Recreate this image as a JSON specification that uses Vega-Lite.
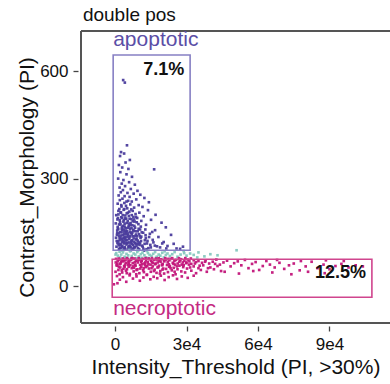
{
  "$schema": "https://vega.github.io/schema/vega-lite/v6.json",
  "width": 309,
  "height": 292,
  "autosize": {"type": "none"},
  "padding": {"left": 81, "top": 31, "right": 0, "bottom": 61},
  "config": {
    "view": {"stroke": null},
    "font": "Liberation Sans",
    "axis": {"domain": false, "grid": false, "tickColor": "#444", "tickSize": 5, "tickWidth": 1.3, "offset": 3, "labelFont": "Liberation Sans", "labelFontSize": 17, "labelColor": "#111", "labelPadding": 5, "titleFont": "Liberation Sans", "titleFontSize": 21, "titleFontWeight": "normal", "titleColor": "#111"}
  },
  "encoding": {
    "x": {"field": "x", "type": "quantitative", "scale": {"domain": [-14.3, 115.4], "nice": false, "zero": false}, "axis": {"title": "Intensity_Threshold (PI, >30%)", "values": [0, 30, 60, 90], "labelExpr": "datum.value == 0 ? '0' : (datum.value / 10) + 'e4'", "titlePadding": 4}},
    "y": {"field": "y", "type": "quantitative", "scale": {"domain": [-103, 712], "nice": false, "zero": false}, "axis": {"title": "Contrast_Morphology (PI)", "values": [0, 300, 600], "titlePadding": 2}}
  },
  "layer": [
    {
      "data": {"values": [
        {"x": -14.3, "y": -103, "x2": 115.4, "y2": -103},
        {"x": -14.3, "y": 712, "x2": 115.4, "y2": 712},
        {"x": -14.3, "y": -103, "x2": -14.3, "y2": 712}
      ]},
      "mark": {"type": "rule", "color": "#555", "strokeWidth": 2},
      "encoding": {"x2": {"field": "x2"}, "y2": {"field": "y2"}}
    },
    {
      "data": {"values": [
        {"x":3.4,"y":575,"g":"a"},{"x":4.1,"y":568,"g":"a"},
        {"x":5.0,"y":393,"g":"a"},{"x":2.5,"y":374,"g":"a"},{"x":3.8,"y":370,"g":"a"},{"x":2.1,"y":363,"g":"a"},{"x":6.2,"y":352,"g":"a"},{"x":4.4,"y":345,"g":"a"},{"x":1.6,"y":338,"g":"a"},{"x":3.0,"y":331,"g":"a"},{"x":5.6,"y":327,"g":"a"},{"x":16.4,"y":326,"g":"a"},{"x":2.2,"y":318,"g":"a"},{"x":4.8,"y":312,"g":"a"},{"x":7.1,"y":305,"g":"a"},{"x":1.3,"y":300,"g":"a"},{"x":3.5,"y":296,"g":"a"},{"x":5.9,"y":290,"g":"a"},{"x":2.8,"y":286,"g":"a"},{"x":8.3,"y":283,"g":"a"},{"x":4.2,"y":279,"g":"a"},{"x":1.9,"y":275,"g":"a"},{"x":6.6,"y":271,"g":"a"},{"x":3.3,"y":268,"g":"a"},{"x":9.4,"y":266,"g":"a"},{"x":2.4,"y":262,"g":"a"},{"x":5.2,"y":260,"g":"a"},{"x":7.8,"y":258,"g":"a"},{"x":10.6,"y":255,"g":"a"},{"x":1.5,"y":253,"g":"a"},{"x":4.0,"y":251,"g":"a"},{"x":6.1,"y":249,"g":"a"},{"x":12.3,"y":246,"g":"a"},{"x":3.1,"y":244,"g":"a"},{"x":8.9,"y":242,"g":"a"},{"x":2.0,"y":240,"g":"a"},{"x":5.5,"y":238,"g":"a"},{"x":7.0,"y":236,"g":"a"},{"x":14.2,"y":234,"g":"a"},{"x":3.9,"y":232,"g":"a"},{"x":1.1,"y":230,"g":"a"},{"x":6.4,"y":228,"g":"a"},{"x":9.9,"y":226,"g":"a"},{"x":4.6,"y":224,"g":"a"},{"x":2.7,"y":222,"g":"a"},{"x":11.5,"y":221,"g":"a"},{"x":8.0,"y":219,"g":"a"},{"x":5.1,"y":217,"g":"a"},{"x":1.8,"y":215,"g":"a"},{"x":3.6,"y":213,"g":"a"},{"x":13.8,"y":212,"g":"a"},{"x":7.4,"y":210,"g":"a"},{"x":6.0,"y":208,"g":"a"},{"x":2.3,"y":206,"g":"a"},{"x":10.2,"y":205,"g":"a"},{"x":4.9,"y":203,"g":"a"},{"x":8.6,"y":201,"g":"a"},{"x":1.4,"y":200,"g":"a"},{"x":17.0,"y":199,"g":"a"},{"x":3.2,"y":198,"g":"a"},{"x":5.8,"y":196,"g":"a"},{"x":12.0,"y":195,"g":"a"},{"x":7.7,"y":193,"g":"a"},{"x":2.6,"y":192,"g":"a"},{"x":9.3,"y":190,"g":"a"},{"x":4.3,"y":189,"g":"a"},{"x":6.9,"y":187,"g":"a"},{"x":1.0,"y":186,"g":"a"},{"x":15.1,"y":185,"g":"a"},{"x":3.7,"y":184,"g":"a"},{"x":11.0,"y":182,"g":"a"},{"x":5.3,"y":181,"g":"a"},{"x":8.2,"y":180,"g":"a"},{"x":2.1,"y":178,"g":"a"},{"x":19.5,"y":177,"g":"a"},{"x":6.5,"y":176,"g":"a"},{"x":4.0,"y":174,"g":"a"},{"x":9.8,"y":173,"g":"a"},{"x":1.7,"y":172,"g":"a"},{"x":13.0,"y":171,"g":"a"},{"x":7.2,"y":170,"g":"a"},{"x":3.4,"y":168,"g":"a"},{"x":5.7,"y":167,"g":"a"},{"x":10.8,"y":166,"g":"a"},{"x":2.9,"y":165,"g":"a"},{"x":21.3,"y":164,"g":"a"},{"x":8.4,"y":163,"g":"a"},{"x":4.5,"y":162,"g":"a"},{"x":6.3,"y":160,"g":"a"},{"x":1.2,"y":159,"g":"a"},{"x":12.7,"y":158,"g":"a"},{"x":3.0,"y":157,"g":"a"},{"x":16.8,"y":156,"g":"a"},{"x":7.9,"y":155,"g":"a"},{"x":5.0,"y":154,"g":"a"},{"x":9.5,"y":153,"g":"a"},{"x":2.2,"y":151,"g":"a"},{"x":4.7,"y":150,"g":"a"},{"x":11.8,"y":149,"g":"a"},{"x":6.7,"y":148,"g":"a"},{"x":1.5,"y":147,"g":"a"},{"x":14.6,"y":146,"g":"a"},{"x":3.8,"y":145,"g":"a"},{"x":8.8,"y":144,"g":"a"},{"x":23.5,"y":143,"g":"a"},{"x":5.4,"y":142,"g":"a"},{"x":2.5,"y":141,"g":"a"},{"x":10.4,"y":140,"g":"a"},{"x":7.5,"y":139,"g":"a"},{"x":4.1,"y":138,"g":"a"},{"x":18.2,"y":137,"g":"a"},{"x":6.0,"y":136,"g":"a"},{"x":1.9,"y":135,"g":"a"},{"x":12.9,"y":134,"g":"a"},{"x":3.3,"y":133,"g":"a"},{"x":9.0,"y":132,"g":"a"},{"x":5.9,"y":131,"g":"a"},{"x":2.8,"y":130,"g":"a"},{"x":15.8,"y":129,"g":"a"},{"x":7.1,"y":128,"g":"a"},{"x":4.4,"y":127,"g":"a"},{"x":10.9,"y":126,"g":"a"},{"x":1.3,"y":125,"g":"a"},{"x":6.8,"y":124,"g":"a"},{"x":20.4,"y":123,"g":"a"},{"x":3.6,"y":122,"g":"a"},{"x":8.5,"y":121,"g":"a"},{"x":5.2,"y":120,"g":"a"},{"x":13.4,"y":119,"g":"a"},{"x":2.4,"y":118,"g":"a"},{"x":9.7,"y":117,"g":"a"},{"x":4.8,"y":116,"g":"a"},{"x":7.6,"y":115,"g":"a"},{"x":1.6,"y":114,"g":"a"},{"x":11.3,"y":113,"g":"a"},{"x":6.2,"y":112,"g":"a"},{"x":17.6,"y":111,"g":"a"},{"x":3.1,"y":110,"g":"a"},{"x":8.1,"y":109,"g":"a"},{"x":5.6,"y":108,"g":"a"},{"x":2.0,"y":107,"g":"a"},{"x":14.0,"y":106,"g":"a"},{"x":25.8,"y":105,"g":"a"},{"x":4.2,"y":104,"g":"a"},{"x":10.1,"y":103,"g":"a"},{"x":7.3,"y":102,"g":"a"},{"x":3.5,"y":101,"g":"a"},{"x":6.6,"y":100,"g":"a"},{"x":12.2,"y":99,"g":"a"},
        {"x":1.1,"y":165,"g":"a"},{"x":2.3,"y":172,"g":"a"},{"x":3.6,"y":158,"g":"a"},{"x":4.9,"y":176,"g":"a"},{"x":5.5,"y":163,"g":"a"},{"x":6.2,"y":152,"g":"a"},{"x":7.0,"y":145,"g":"a"},{"x":8.1,"y":168,"g":"a"},{"x":9.2,"y":139,"g":"a"},{"x":0.8,"y":143,"g":"a"},{"x":1.9,"y":128,"g":"a"},{"x":2.7,"y":150,"g":"a"},{"x":3.9,"y":135,"g":"a"},{"x":4.6,"y":120,"g":"a"},{"x":5.8,"y":112,"g":"a"},{"x":6.9,"y":126,"g":"a"},{"x":7.8,"y":133,"g":"a"},{"x":8.7,"y":118,"g":"a"},{"x":9.6,"y":106,"g":"a"},{"x":10.5,"y":121,"g":"a"},{"x":0.6,"y":110,"g":"a"},{"x":1.5,"y":118,"g":"a"},{"x":2.4,"y":133,"g":"a"},{"x":3.2,"y":142,"g":"a"},{"x":4.1,"y":109,"g":"a"},{"x":5.0,"y":129,"g":"a"},{"x":6.0,"y":104,"g":"a"},{"x":7.2,"y":117,"g":"a"},{"x":8.3,"y":108,"g":"a"},{"x":11.6,"y":110,"g":"a"},{"x":12.5,"y":128,"g":"a"},{"x":13.2,"y":103,"g":"a"},{"x":14.8,"y":115,"g":"a"},{"x":16.1,"y":122,"g":"a"},{"x":18.9,"y":108,"g":"a"},{"x":22.0,"y":112,"g":"a"},{"x":24.6,"y":118,"g":"a"},{"x":27.3,"y":104,"g":"a"},{"x":28.5,"y":110,"g":"a"},{"x":0.9,"y":155,"g":"a"},{"x":2.0,"y":184,"g":"a"},{"x":3.0,"y":190,"g":"a"},{"x":4.3,"y":197,"g":"a"},{"x":5.4,"y":205,"g":"a"},{"x":6.8,"y":214,"g":"a"},{"x":0.5,"y":198,"g":"a"},{"x":1.4,"y":210,"g":"a"},{"x":2.6,"y":226,"g":"a"},{"x":3.9,"y":215,"g":"a"},{"x":4.8,"y":236,"g":"a"},{"x":6.1,"y":188,"g":"a"},{"x":7.4,"y":181,"g":"a"},{"x":8.8,"y":193,"g":"a"},{"x":9.9,"y":160,"g":"a"},{"x":11.2,"y":150,"g":"a"},{"x":12.8,"y":142,"g":"a"},{"x":14.3,"y":137,"g":"a"},{"x":15.6,"y":151,"g":"a"},{"x":0.7,"y":126,"g":"a"},{"x":1.8,"y":103,"g":"a"},{"x":2.9,"y":112,"g":"a"},{"x":3.7,"y":119,"g":"a"},{"x":4.5,"y":146,"g":"a"},{"x":5.3,"y":102,"g":"a"},{"x":6.4,"y":139,"g":"a"},{"x":7.6,"y":157,"g":"a"},{"x":8.9,"y":130,"g":"a"},{"x":10.0,"y":145,"g":"a"},{"x":10.7,"y":135,"g":"a"},
        {"x":0.4,"y":135,"g":"a"},{"x":1.0,"y":120,"g":"a"},{"x":1.7,"y":140,"g":"a"},{"x":2.2,"y":115,"g":"a"},{"x":2.8,"y":160,"g":"a"},{"x":3.4,"y":127,"g":"a"},{"x":3.9,"y":105,"g":"a"},{"x":4.4,"y":155,"g":"a"},{"x":5.1,"y":138,"g":"a"},{"x":5.7,"y":122,"g":"a"},{"x":6.3,"y":170,"g":"a"},{"x":6.7,"y":108,"g":"a"},{"x":7.3,"y":150,"g":"a"},{"x":7.9,"y":124,"g":"a"},{"x":8.4,"y":140,"g":"a"},{"x":9.0,"y":112,"g":"a"},{"x":9.5,"y":127,"g":"a"},{"x":10.3,"y":115,"g":"a"},{"x":11.0,"y":138,"g":"a"},{"x":11.9,"y":104,"g":"a"},{"x":12.4,"y":118,"g":"a"},{"x":13.6,"y":126,"g":"a"},{"x":15.0,"y":108,"g":"a"},{"x":16.7,"y":113,"g":"a"},{"x":19.8,"y":119,"g":"a"},{"x":21.5,"y":105,"g":"a"},{"x":0.3,"y":175,"g":"a"},{"x":1.2,"y":190,"g":"a"},{"x":2.5,"y":205,"g":"a"},{"x":3.5,"y":180,"g":"a"},{"x":4.7,"y":188,"g":"a"},{"x":5.9,"y":174,"g":"a"},{"x":7.0,"y":198,"g":"a"},{"x":8.0,"y":186,"g":"a"},{"x":9.1,"y":178,"g":"a"},{"x":1.6,"y":102,"g":"a"},{"x":2.6,"y":106,"g":"a"},{"x":3.0,"y":124,"g":"a"},{"x":4.3,"y":131,"g":"a"},{"x":5.5,"y":147,"g":"a"},{"x":6.5,"y":119,"g":"a"},{"x":7.7,"y":105,"g":"a"},{"x":8.6,"y":153,"g":"a"},{"x":9.8,"y":122,"g":"a"},{"x":0.9,"y":148,"g":"a"},{"x":1.3,"y":160,"g":"a"},{"x":3.7,"y":152,"g":"a"},{"x":4.0,"y":166,"g":"a"},{"x":6.9,"y":162,"g":"a"},{"x":10.5,"y":158,"g":"a"},
        {"x":0.5,"y":92,"g":"o"},{"x":1.2,"y":85,"g":"o"},{"x":1.9,"y":96,"g":"o"},{"x":2.6,"y":88,"g":"o"},{"x":3.3,"y":94,"g":"o"},{"x":4.0,"y":82,"g":"o"},{"x":4.8,"y":90,"g":"o"},{"x":5.5,"y":86,"g":"o"},{"x":6.3,"y":97,"g":"o"},{"x":7.0,"y":84,"g":"o"},{"x":7.8,"y":91,"g":"o"},{"x":8.5,"y":88,"g":"o"},{"x":9.3,"y":95,"g":"o"},{"x":10.0,"y":83,"g":"o"},{"x":10.8,"y":89,"g":"o"},{"x":11.5,"y":93,"g":"o"},{"x":12.3,"y":86,"g":"o"},{"x":13.0,"y":80,"g":"o"},{"x":13.8,"y":92,"g":"o"},{"x":14.5,"y":87,"g":"o"},{"x":15.3,"y":84,"g":"o"},{"x":16.0,"y":90,"g":"o"},{"x":16.8,"y":95,"g":"o"},{"x":17.5,"y":82,"g":"o"},{"x":18.3,"y":88,"g":"o"},{"x":19.0,"y":85,"g":"o"},{"x":19.8,"y":93,"g":"o"},{"x":20.5,"y":80,"g":"o"},{"x":21.3,"y":87,"g":"o"},{"x":22.0,"y":91,"g":"o"},{"x":23.0,"y":84,"g":"o"},{"x":24.0,"y":89,"g":"o"},{"x":25.0,"y":95,"g":"o"},{"x":26.2,"y":82,"g":"o"},{"x":27.5,"y":88,"g":"o"},{"x":28.8,"y":98,"g":"o"},{"x":30.0,"y":85,"g":"o"},{"x":31.5,"y":91,"g":"o"},{"x":33.0,"y":87,"g":"o"},{"x":35.0,"y":94,"g":"o"},{"x":37.5,"y":83,"g":"o"},{"x":40.0,"y":89,"g":"o"},{"x":43.0,"y":86,"g":"o"},{"x":51.0,"y":100,"g":"o"},{"x":2.1,"y":80,"g":"o"},{"x":3.7,"y":78,"g":"o"},{"x":5.1,"y":79,"g":"o"},{"x":6.7,"y":77,"g":"o"},{"x":8.9,"y":78,"g":"o"},{"x":11.1,"y":79,"g":"o"},{"x":14.0,"y":78,"g":"o"},{"x":17.2,"y":79,"g":"o"},{"x":2.9,"y":99,"g":"o"},{"x":5.9,"y":101,"g":"o"},{"x":9.7,"y":99,"g":"o"},{"x":13.4,"y":98,"g":"o"},{"x":20.8,"y":97,"g":"o"},{"x":29.0,"y":92,"g":"o"},{"x":34.5,"y":80,"g":"o"},{"x":0.2,"y":88,"g":"o"},
        {"x":0.4,"y":76,"g":"n"},{"x":1.1,"y":70,"g":"n"},{"x":1.8,"y":74,"g":"n"},{"x":2.5,"y":67,"g":"n"},{"x":3.2,"y":77,"g":"n"},{"x":3.9,"y":72,"g":"n"},{"x":4.6,"y":65,"g":"n"},{"x":5.3,"y":75,"g":"n"},{"x":6.0,"y":69,"g":"n"},{"x":6.7,"y":73,"g":"n"},{"x":7.4,"y":64,"g":"n"},{"x":8.1,"y":77,"g":"n"},{"x":8.8,"y":71,"g":"n"},{"x":9.5,"y":66,"g":"n"},{"x":10.2,"y":74,"g":"n"},{"x":10.9,"y":68,"g":"n"},{"x":11.6,"y":76,"g":"n"},{"x":12.3,"y":63,"g":"n"},{"x":13.0,"y":72,"g":"n"},{"x":13.7,"y":67,"g":"n"},{"x":14.4,"y":75,"g":"n"},{"x":15.1,"y":70,"g":"n"},{"x":15.8,"y":64,"g":"n"},{"x":16.5,"y":73,"g":"n"},{"x":17.2,"y":77,"g":"n"},{"x":17.9,"y":66,"g":"n"},{"x":18.6,"y":71,"g":"n"},{"x":19.3,"y":75,"g":"n"},{"x":20.0,"y":62,"g":"n"},{"x":20.7,"y":69,"g":"n"},{"x":21.4,"y":74,"g":"n"},{"x":22.1,"y":67,"g":"n"},{"x":22.8,"y":72,"g":"n"},{"x":23.5,"y":76,"g":"n"},{"x":24.2,"y":65,"g":"n"},{"x":24.9,"y":70,"g":"n"},{"x":25.6,"y":73,"g":"n"},{"x":26.3,"y":63,"g":"n"},{"x":27.0,"y":68,"g":"n"},{"x":27.7,"y":75,"g":"n"},{"x":28.4,"y":66,"g":"n"},{"x":29.1,"y":71,"g":"n"},{"x":29.8,"y":64,"g":"n"},{"x":30.5,"y":74,"g":"n"},{"x":31.2,"y":69,"g":"n"},{"x":32.0,"y":62,"g":"n"},{"x":33.0,"y":72,"g":"n"},{"x":34.0,"y":67,"g":"n"},{"x":35.0,"y":70,"g":"n"},{"x":36.5,"y":65,"g":"n"},
        {"x":0.6,"y":58,"g":"n"},{"x":1.4,"y":45,"g":"n"},{"x":2.2,"y":52,"g":"n"},{"x":3.0,"y":38,"g":"n"},{"x":3.8,"y":56,"g":"n"},{"x":4.6,"y":43,"g":"n"},{"x":5.4,"y":60,"g":"n"},{"x":6.2,"y":34,"g":"n"},{"x":7.0,"y":50,"g":"n"},{"x":7.8,"y":41,"g":"n"},{"x":8.6,"y":57,"g":"n"},{"x":9.4,"y":47,"g":"n"},{"x":10.2,"y":36,"g":"n"},{"x":11.0,"y":54,"g":"n"},{"x":11.8,"y":44,"g":"n"},{"x":12.6,"y":59,"g":"n"},{"x":13.4,"y":32,"g":"n"},{"x":14.2,"y":49,"g":"n"},{"x":15.0,"y":40,"g":"n"},{"x":15.8,"y":55,"g":"n"},{"x":16.6,"y":46,"g":"n"},{"x":17.4,"y":37,"g":"n"},{"x":18.2,"y":53,"g":"n"},{"x":19.0,"y":42,"g":"n"},{"x":19.8,"y":58,"g":"n"},{"x":20.6,"y":35,"g":"n"},{"x":21.4,"y":48,"g":"n"},{"x":22.2,"y":39,"g":"n"},{"x":23.0,"y":56,"g":"n"},{"x":23.8,"y":44,"g":"n"},{"x":24.6,"y":51,"g":"n"},{"x":25.4,"y":33,"g":"n"},{"x":26.2,"y":47,"g":"n"},{"x":27.0,"y":57,"g":"n"},{"x":27.8,"y":41,"g":"n"},{"x":28.6,"y":53,"g":"n"},{"x":29.4,"y":38,"g":"n"},{"x":30.2,"y":49,"g":"n"},{"x":31.0,"y":60,"g":"n"},{"x":32.0,"y":43,"g":"n"},{"x":33.0,"y":55,"g":"n"},{"x":34.0,"y":36,"g":"n"},{"x":35.0,"y":50,"g":"n"},{"x":36.0,"y":45,"g":"n"},{"x":37.0,"y":58,"g":"n"},{"x":38.5,"y":40,"g":"n"},{"x":40.0,"y":52,"g":"n"},{"x":41.5,"y":47,"g":"n"},{"x":43.0,"y":56,"g":"n"},{"x":44.5,"y":42,"g":"n"},
        {"x":0.8,"y":28,"g":"n"},{"x":2.0,"y":18,"g":"n"},{"x":3.3,"y":25,"g":"n"},{"x":4.7,"y":12,"g":"n"},{"x":6.1,"y":30,"g":"n"},{"x":7.5,"y":21,"g":"n"},{"x":9.0,"y":27,"g":"n"},{"x":10.4,"y":15,"g":"n"},{"x":11.9,"y":24,"g":"n"},{"x":13.3,"y":31,"g":"n"},{"x":14.8,"y":19,"g":"n"},{"x":16.2,"y":26,"g":"n"},{"x":17.7,"y":22,"g":"n"},{"x":19.2,"y":29,"g":"n"},{"x":20.8,"y":17,"g":"n"},{"x":22.5,"y":25,"g":"n"},{"x":24.3,"y":30,"g":"n"},{"x":26.0,"y":20,"g":"n"},{"x":28.0,"y":27,"g":"n"},{"x":30.5,"y":23,"g":"n"},{"x":33.0,"y":29,"g":"n"},{"x":1.0,"y":8,"g":"n"},{"x":-0.5,"y":5,"g":"n"},
        {"x":38.0,"y":72,"g":"n"},{"x":39.5,"y":63,"g":"n"},{"x":41.0,"y":68,"g":"n"},{"x":42.5,"y":74,"g":"n"},{"x":44.0,"y":60,"g":"n"},{"x":45.5,"y":66,"g":"n"},{"x":47.0,"y":71,"g":"n"},{"x":48.5,"y":55,"g":"n"},{"x":50.0,"y":64,"g":"n"},{"x":51.5,"y":69,"g":"n"},{"x":53.0,"y":58,"g":"n"},{"x":54.5,"y":73,"g":"n"},{"x":56.0,"y":50,"g":"n"},{"x":57.5,"y":62,"g":"n"},{"x":59.0,"y":67,"g":"n"},{"x":60.5,"y":45,"g":"n"},{"x":62.0,"y":56,"g":"n"},{"x":63.5,"y":70,"g":"n"},{"x":65.0,"y":60,"g":"n"},{"x":67.0,"y":52,"g":"n"},{"x":69.0,"y":65,"g":"n"},{"x":71.0,"y":48,"g":"n"},{"x":73.0,"y":58,"g":"n"},{"x":75.0,"y":63,"g":"n"},{"x":77.5,"y":44,"g":"n"},{"x":80.0,"y":55,"g":"n"},{"x":82.5,"y":68,"g":"n"},{"x":85.0,"y":50,"g":"n"},{"x":87.5,"y":60,"g":"n"},{"x":90.0,"y":47,"g":"n"},{"x":92.5,"y":56,"g":"n"},{"x":95.0,"y":62,"g":"n"},{"x":98.0,"y":52,"g":"n"},{"x":101.0,"y":58,"g":"n"},{"x":104.0,"y":55,"g":"n"},{"x":46.0,"y":40,"g":"n"},{"x":52.0,"y":35,"g":"n"},{"x":58.0,"y":42,"g":"n"},{"x":66.0,"y":38,"g":"n"},{"x":74.0,"y":33,"g":"n"},{"x":81.0,"y":40,"g":"n"},{"x":88.0,"y":36,"g":"n"},{"x":68.0,"y":73,"g":"n"},{"x":78.0,"y":70,"g":"n"},{"x":88.5,"y":72,"g":"n"},{"x":96.0,"y":70,"g":"n"},
        {"x":0.9,"y":63,"g":"n"},{"x":2.0,"y":61,"g":"n"},{"x":2.9,"y":71,"g":"n"},{"x":4.2,"y":60,"g":"n"},{"x":5.0,"y":78,"g":"n"},{"x":5.8,"y":62,"g":"n"},{"x":7.1,"y":78,"g":"n"},{"x":8.4,"y":60,"g":"n"},{"x":9.9,"y":78,"g":"n"},{"x":11.3,"y":61,"g":"n"},{"x":12.8,"y":78,"g":"n"},{"x":14.0,"y":61,"g":"n"},{"x":15.5,"y":78,"g":"n"},{"x":16.9,"y":61,"g":"n"},{"x":18.3,"y":78,"g":"n"},{"x":19.7,"y":60,"g":"n"},{"x":21.1,"y":78,"g":"n"},{"x":22.6,"y":61,"g":"n"},{"x":24.0,"y":78,"g":"n"},{"x":25.2,"y":60,"g":"n"},{"x":26.8,"y":78,"g":"n"},{"x":28.0,"y":60,"g":"n"},{"x":29.5,"y":78,"g":"n"},{"x":31.8,"y":77,"g":"n"},{"x":1.6,"y":53,"g":"n"},{"x":3.5,"y":48,"g":"n"},{"x":5.7,"y":54,"g":"n"},{"x":8.0,"y":51,"g":"n"},{"x":10.6,"y":49,"g":"n"},{"x":12.9,"y":53,"g":"n"},{"x":15.3,"y":50,"g":"n"},{"x":17.8,"y":52,"g":"n"},{"x":20.2,"y":49,"g":"n"},{"x":22.7,"y":54,"g":"n"},
        {"x":0.3,"y":66,"g":"n"},{"x":1.0,"y":57,"g":"n"},{"x":1.5,"y":77,"g":"n"},{"x":2.3,"y":63,"g":"n"},{"x":2.8,"y":44,"g":"n"},{"x":3.5,"y":69,"g":"n"},{"x":4.0,"y":53,"g":"n"},{"x":4.4,"y":74,"g":"n"},{"x":5.0,"y":47,"g":"n"},{"x":5.6,"y":68,"g":"n"},{"x":6.4,"y":58,"g":"n"},{"x":6.9,"y":76,"g":"n"},{"x":7.6,"y":55,"g":"n"},{"x":8.3,"y":67,"g":"n"},{"x":9.0,"y":45,"g":"n"},{"x":9.7,"y":72,"g":"n"},{"x":10.5,"y":59,"g":"n"},{"x":11.2,"y":70,"g":"n"},{"x":12.0,"y":50,"g":"n"},{"x":12.7,"y":66,"g":"n"},{"x":13.5,"y":56,"g":"n"},{"x":14.1,"y":77,"g":"n"},{"x":14.9,"y":60,"g":"n"},{"x":15.6,"y":68,"g":"n"},{"x":16.3,"y":42,"g":"n"},{"x":17.0,"y":63,"g":"n"},{"x":17.6,"y":74,"g":"n"},{"x":18.4,"y":57,"g":"n"},{"x":19.1,"y":68,"g":"n"},{"x":19.9,"y":46,"g":"n"},{"x":20.5,"y":72,"g":"n"},{"x":21.8,"y":59,"g":"n"},{"x":22.4,"y":76,"g":"n"},{"x":23.3,"y":50,"g":"n"},{"x":24.5,"y":62,"g":"n"},{"x":25.9,"y":55,"g":"n"},{"x":27.3,"y":72,"g":"n"},{"x":28.8,"y":58,"g":"n"},{"x":30.0,"y":66,"g":"n"},{"x":31.5,"y":52,"g":"n"},{"x":33.5,"y":63,"g":"n"},{"x":35.5,"y":57,"g":"n"},{"x":37.8,"y":68,"g":"n"},{"x":39.0,"y":50,"g":"n"},{"x":42.0,"y":62,"g":"n"},{"x":0.2,"y":40,"g":"n"},{"x":1.9,"y":33,"g":"n"},{"x":4.9,"y":36,"g":"n"},{"x":8.9,"y":33,"g":"n"},{"x":12.1,"y":39,"g":"n"},{"x":18.8,"y":35,"g":"n"},{"x":25.0,"y":40,"g":"n"}
      ]},
      "mark": {"type": "square", "size": 7, "opacity": 0.95},
      "encoding": {
        "color": {"field": "g", "type": "nominal", "scale": {"domain": ["a", "o", "n"], "range": ["#4a3c9c", "#86c8bf", "#c2157a"]}, "legend": null}
      }
    },
    {
      "data": {"values": [{"x": -0.8, "y": 645, "x2": 31.5, "y2": 100}]},
      "mark": {"type": "rect", "fillOpacity": 0, "stroke": "#8780c4", "strokeWidth": 1.6},
      "encoding": {"x2": {"field": "x2"}, "y2": {"field": "y2"}}
    },
    {
      "data": {"values": [{"x": -1.2, "y": 75, "x2": 107.8, "y2": -31}]},
      "mark": {"type": "rect", "fillOpacity": 0, "stroke": "#d0458e", "strokeWidth": 1.6},
      "encoding": {"x2": {"field": "x2"}, "y2": {"field": "y2"}}
    },
    {
      "data": {"values": [{"x": -13.5, "y": 757, "label": "double pos"}]},
      "mark": {"type": "text", "align": "left", "baseline": "middle", "fontSize": 19, "color": "#111", "font": "Liberation Sans"},
      "encoding": {"text": {"field": "label"}}
    },
    {
      "data": {"values": [{"x": -0.8, "y": 686, "label": "apoptotic"}]},
      "mark": {"type": "text", "align": "left", "baseline": "middle", "fontSize": 21, "color": "#5b4ea6", "font": "Liberation Sans"},
      "encoding": {"text": {"field": "label"}}
    },
    {
      "data": {"values": [{"x": -0.8, "y": -64, "label": "necroptotic"}]},
      "mark": {"type": "text", "align": "left", "baseline": "middle", "fontSize": 21, "color": "#c42a82", "font": "Liberation Sans"},
      "encoding": {"text": {"field": "label"}}
    },
    {
      "data": {"values": [{"x": 29.0, "y": 603, "label": "7.1%"}, {"x": 105.3, "y": 36, "label": "12.5%"}]},
      "mark": {"type": "text", "align": "right", "baseline": "middle", "fontSize": 18, "fontWeight": "bold", "color": "#111", "font": "Liberation Sans"},
      "encoding": {"text": {"field": "label"}}
    }
  ]
}
